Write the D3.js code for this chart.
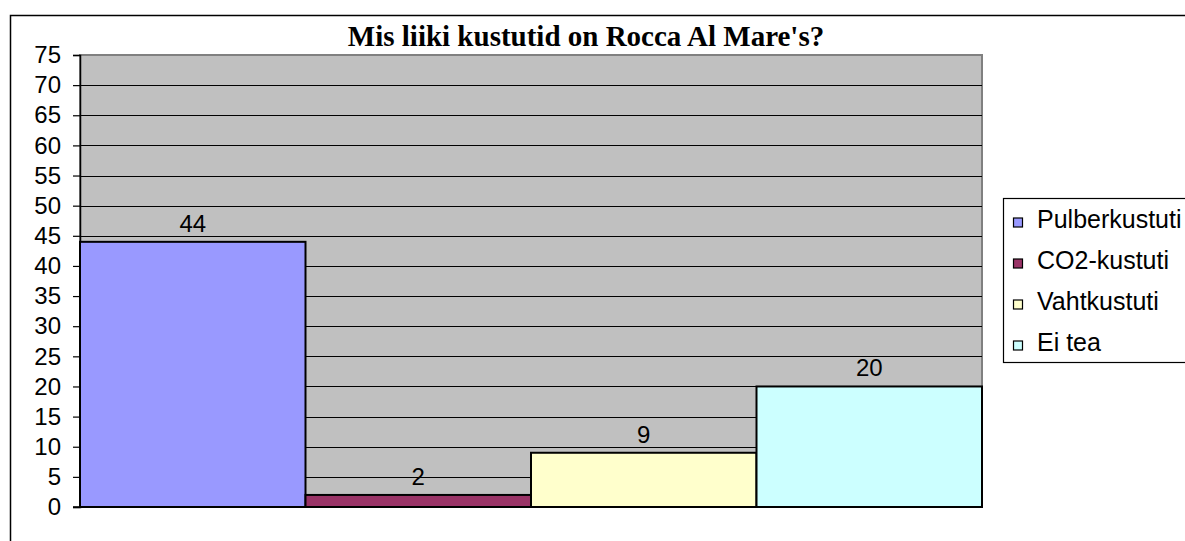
<!DOCTYPE html>
<html>
<head>
<meta charset="utf-8">
<script src="https://cdn.jsdelivr.net/npm/d3@7"></script>
<style>
  html, body { margin: 0; padding: 0; background: #fff; }
  svg { display: block; }
</style>
</head>
<body>
<svg id="chart" width="1185" height="541"></svg>
<script>
const title = "Mis liiki kustutid on Rocca Al Mare's?";
const categories = ["Pulberkustuti", "CO2-kustuti", "Vahtkustuti", "Ei tea"];
const values = [44, 2, 9, 20];
const colors = ["#9999FF", "#993366", "#FFFFCC", "#CCFFFF"];
const yTicks = [0, 5, 10, 15, 20, 25, 30, 35, 40, 45, 50, 55, 60, 65, 70, 75];

const svg = d3.select("#chart");
const W = 1185, H = 541;
const plot = { left: 80, top: 55, right: 982, bottom: 507 };

// outer chart border
svg.append("rect")
  .attr("x", 10.5).attr("y", 15.5)
  .attr("width", W + 20).attr("height", H + 20)
  .attr("fill", "#fff").attr("stroke", "#000").attr("stroke-width", 1.5);

const x = d3.scaleBand().domain(categories).range([plot.left, plot.right]).padding(0);
const y = d3.scaleLinear().domain([0, 75]).range([plot.bottom, plot.top]);

// plot area background
svg.append("rect")
  .attr("x", plot.left).attr("y", plot.top)
  .attr("width", plot.right - plot.left).attr("height", plot.bottom - plot.top)
  .attr("fill", "#C0C0C0").attr("stroke", "#808080").attr("stroke-width", 2);

// gridlines
svg.append("g").selectAll("line")
  .data(yTicks.filter(t => t > 0 && t < 75))
  .join("line")
  .attr("x1", plot.left).attr("x2", plot.right)
  .attr("y1", d => Math.round(y(d)) + 0.5).attr("y2", d => Math.round(y(d)) + 0.5)
  .attr("stroke", "#000").attr("stroke-width", 1);

// y axis
const yAxis = d3.axisLeft(y).tickValues(yTicks).tickSize(7).tickPadding(12).tickFormat(d3.format("d"));
const gy = svg.append("g").attr("transform", `translate(${plot.left},0)`).call(yAxis);
gy.select(".domain").attr("stroke", "#000").attr("stroke-width", 1.5);
gy.selectAll(".tick line").attr("stroke", "#000").attr("stroke-width", 1.2);
gy.selectAll(".tick text")
  .attr("font-family", "Liberation Sans, Arial, sans-serif")
  .attr("font-size", 24).attr("fill", "#000");

// bars
svg.append("g").selectAll("rect")
  .data(categories)
  .join("rect")
  .attr("x", d => x(d))
  .attr("y", (d, i) => y(values[i]))
  .attr("width", x.bandwidth())
  .attr("height", (d, i) => y(0) - y(values[i]))
  .attr("fill", (d, i) => colors[i])
  .attr("stroke", "#000").attr("stroke-width", 2);

// x axis line
svg.append("line")
  .attr("x1", plot.left - 7).attr("x2", plot.right + 1)
  .attr("y1", y(0)).attr("y2", y(0))
  .attr("stroke", "#000").attr("stroke-width", 1.5);

// value labels
svg.append("g").selectAll("text")
  .data(categories)
  .join("text")
  .attr("x", d => x(d) + x.bandwidth() / 2)
  .attr("y", (d, i) => y(values[i]) - 10)
  .attr("text-anchor", "middle")
  .attr("font-family", "Liberation Sans, Arial, sans-serif")
  .attr("font-size", 24).attr("fill", "#000")
  .text((d, i) => values[i]);

// title
svg.append("text")
  .attr("x", 586).attr("y", 46)
  .attr("text-anchor", "middle")
  .attr("font-family", "Liberation Serif, Times New Roman, serif")
  .attr("font-weight", "bold")
  .attr("font-size", 29)
  .attr("fill", "#000")
  .text(title);

// legend
const lg = svg.append("g");
const lgTop = 198, lgRow = 41;
lg.append("rect")
  .attr("x", 1003.5).attr("y", lgTop + 0.5)
  .attr("width", 300).attr("height", lgRow * categories.length)
  .attr("fill", "#fff").attr("stroke", "#000").attr("stroke-width", 1.2);
const items = lg.selectAll("g.item").data(categories).join("g")
  .attr("transform", (d, i) => `translate(0,${lgTop + lgRow * i + lgRow / 2})`);
items.append("rect")
  .attr("x", 1013.5).attr("y", -0.5).attr("width", 9).attr("height", 9)
  .attr("fill", (d, i) => colors[i]).attr("stroke", "#000").attr("stroke-width", 1.2);
items.append("text")
  .attr("x", 1037).attr("y", 0).attr("dy", "0.36em")
  .attr("font-family", "Liberation Sans, Arial, sans-serif")
  .attr("font-size", 25).attr("fill", "#000")
  .text(d => d);
</script>
</body>
</html>
